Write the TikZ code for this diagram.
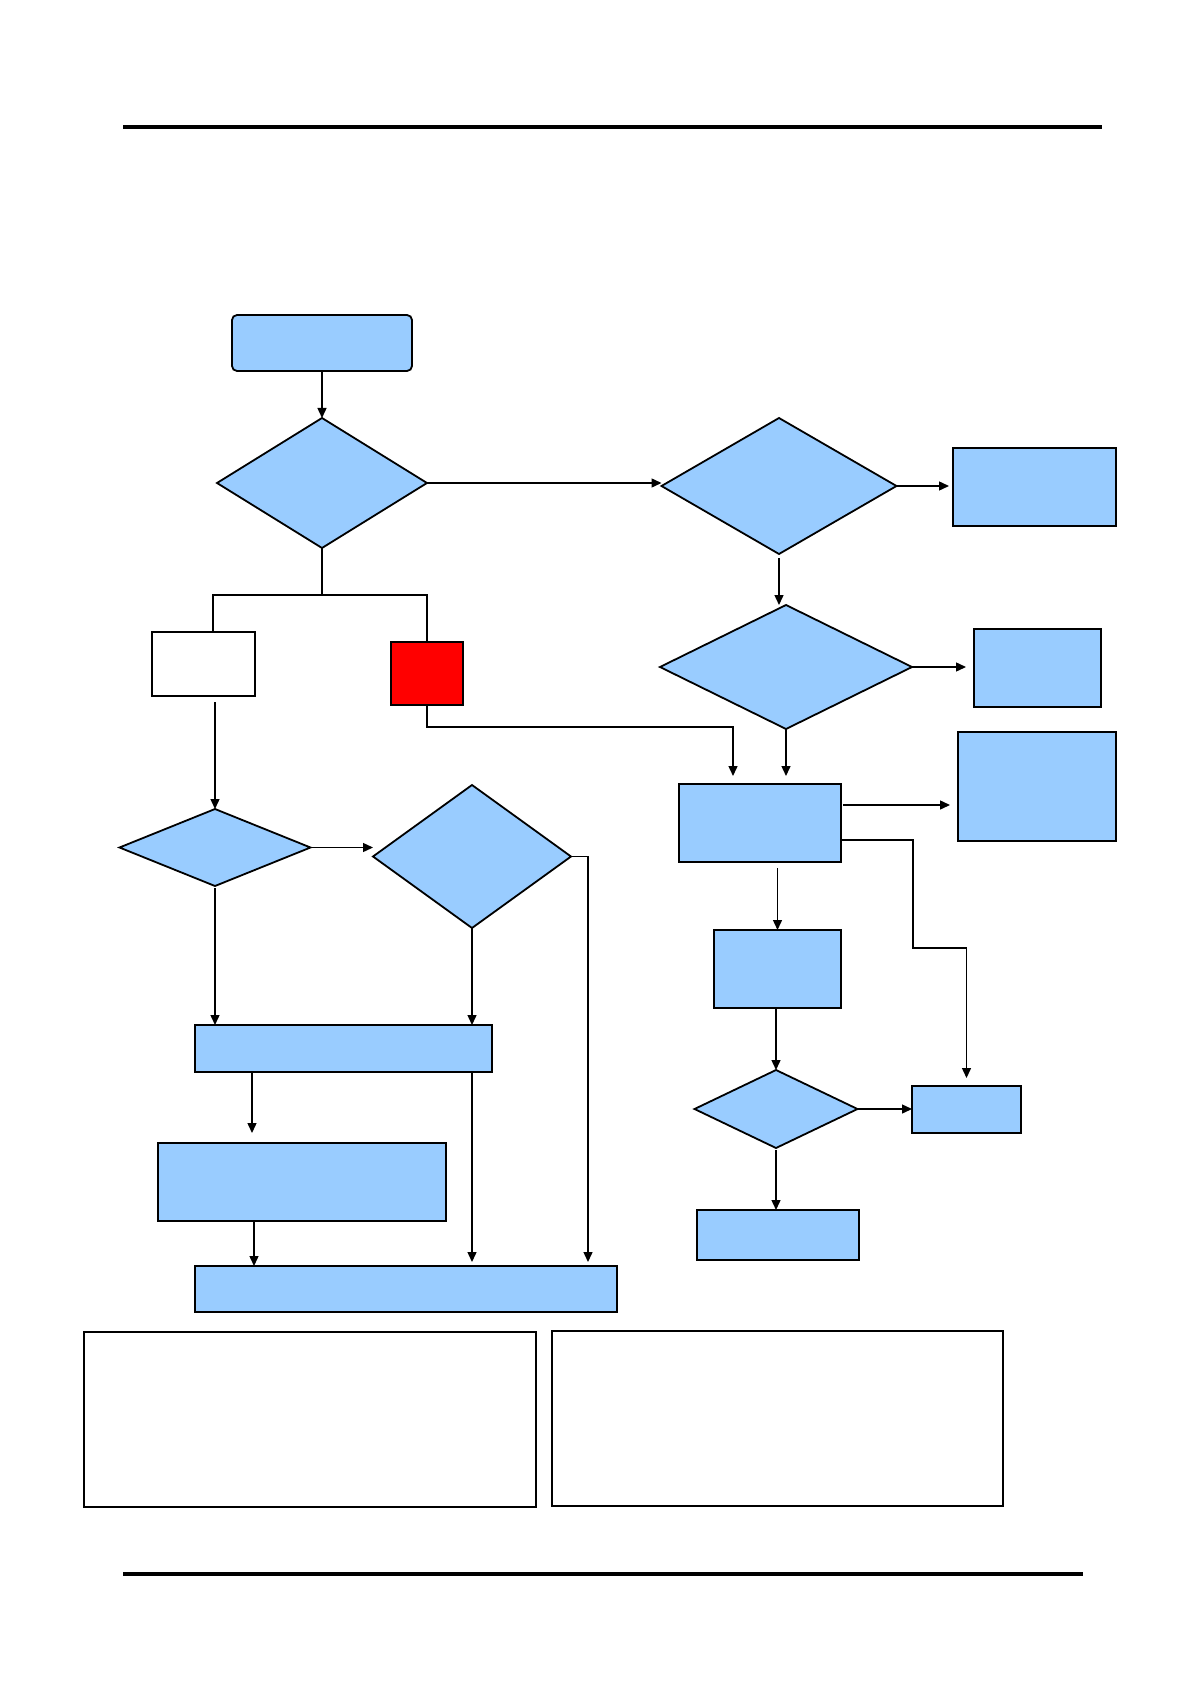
\documentclass[tikz,border=0pt]{standalone}
\usepackage{tikz}
\usetikzlibrary{arrows.meta,shapes.geometric}
\definecolor{flowblue}{HTML}{99CCFF}
\tikzstyle{proc}=[rectangle,draw=black,fill=flowblue,line width=0.9pt,inner sep=0pt,outer sep=0pt]
\tikzstyle{dec}=[diamond,draw=black,fill=flowblue,line width=0.9pt,inner sep=0pt,outer sep=0pt]
\tikzstyle{note}=[rectangle,draw=black,inner sep=0pt,outer sep=0pt]
\tikzstyle{flow}=[->, line width=0.7pt]
\tikzstyle{rule}=[line width=2.4pt]

\begin{document}
\begin{tikzpicture}[x=0.5pt,y=-0.5pt,>={Triangle[length=5pt,width=4.5pt]}]
\useasboundingbox (0,0) rectangle (1190,1684);
\draw[rule] (123,127) -- (1102,127);
\draw[rule] (123,1574) -- (1083,1574);
% upper part
\node[proc,rounded corners=2.5pt,minimum width=90pt,minimum height=28pt] (start) at (322,343) {};
\node[dec,minimum width=105pt,minimum height=65pt] (D1) at (322,483) {};
\node[dec,minimum width=117.5pt,minimum height=68pt] (D2) at (779,486) {};
\node[proc,minimum width=81.5pt,minimum height=39pt] (R1) at (1034.5,487) {};
\node[dec,minimum width=126pt,minimum height=62pt] (D3) at (786,667) {};
\node[proc,minimum width=63.5pt,minimum height=39pt] (R2) at (1037.5,668) {};
\node[note,line width=0.9pt,minimum width=51.5pt,minimum height=32pt] (wbox) at (203.5,664) {};
\node[proc,fill=red,minimum width=36pt,minimum height=31.5pt] (rbox) at (427,673.5) {};
% right column
\node[proc,minimum width=81pt,minimum height=39pt] (P) at (760,823) {};
\node[proc,minimum width=79pt,minimum height=54.5pt] (R3) at (1037,786.5) {};
\node[proc,minimum width=63.5pt,minimum height=39pt] (Q) at (777.5,969) {};
\node[dec,minimum width=81.5pt,minimum height=39pt] (D4) at (776,1109) {};
\node[proc,minimum width=54.5pt,minimum height=23.5pt] (S) at (966.5,1109.5) {};
\node[proc,minimum width=81pt,minimum height=25pt] (T) at (778,1235) {};
% left column
\node[dec,minimum width=95.5pt,minimum height=38.5pt] (D5) at (215,847.5) {};
\node[dec,minimum width=99pt,minimum height=71.5pt] (D6) at (472,856.5) {};
\node[proc,minimum width=148.5pt,minimum height=23.5pt] (V) at (343.5,1048.5) {};
\node[proc,minimum width=144pt,minimum height=39pt] (W) at (302,1182) {};
\node[proc,minimum width=211pt,minimum height=23pt] (U) at (406,1289) {};
% notes
\node[note,line width=0.6pt,minimum width=226pt,minimum height=87.5pt] (noteL) at (310,1419.5) {};
\node[note,line width=0.9pt,minimum width=225.5pt,minimum height=87.5pt] (noteR) at (777.5,1418.5) {};

\coordinate (jn) at (322,595);
\coordinate (rp) at (733,727);
\coordinate (bend) at (913,948);
\draw[flow] (start) -- (D1.north);
\draw[line width=0.7pt] (D1.south) -- (jn) -| (rbox.north);
\draw[line width=0.7pt] (jn) -| ([xshift=4.75pt]wbox.north);
\draw[flow] (D1.east) -- (D1.east -| D2.west);
\draw[flow,shorten >=2pt] (D2.east) -- (D2.east -| R1.west);
\draw[flow,shorten <=2pt] (D2.south) -- (D2.south |- D3.north);
\draw[flow,shorten >=4pt] (D3.east) -- (D3.east -| R2.west);
\draw[flow,shorten >=4pt] (rbox.south) |- (rp) -- (rp |- P.north);
\draw[flow,shorten >=4pt] (D3.south) -- (D3.south |- P.north);
\draw[flow,shorten <=1pt,shorten >=4pt] ([yshift=9pt]P.east) -- ([yshift=9pt]P.east -| R3.west);
\draw[flow,shorten >=4pt] ([yshift=-8.5pt]P.east) -| (bend) -| (S.north);
\draw[flow,shorten <=3pt] (Q.north |- P.south) -- (Q.north);
\draw[flow] (Q.south -| D4.north) -- (D4.north);
\draw[flow] (D4.east) -- (D4.east -| S.west);
\draw[flow,shorten <=1pt] (D4.south) -- (D4.south |- T.north);
\draw[flow] ([yshift=-3pt]wbox.south -| D5.north) -- (D5.north);
\draw[flow] (D5.east) -- (D5.east -| D6.west);
\draw[flow,shorten <=1pt] (D5.south) -- (D5.south |- V.north);
\draw[flow] (D6.south) -- (D6.south |- V.north);
\draw[flow,shorten >=2pt] (D6.east) -| ([xshift=91pt]U.north);
\draw[flow,shorten >=5pt] ([xshift=-25pt]W.north |- V.south) -- ([xshift=-25pt]W.north);
\draw[flow,shorten >=2pt] (V.south -| D6.south) -- (U.north -| D6.south);
\draw[flow] ([xshift=-24pt]W.south) -- ([xshift=-24pt]W.south |- U.north);
\end{tikzpicture}
\end{document}
